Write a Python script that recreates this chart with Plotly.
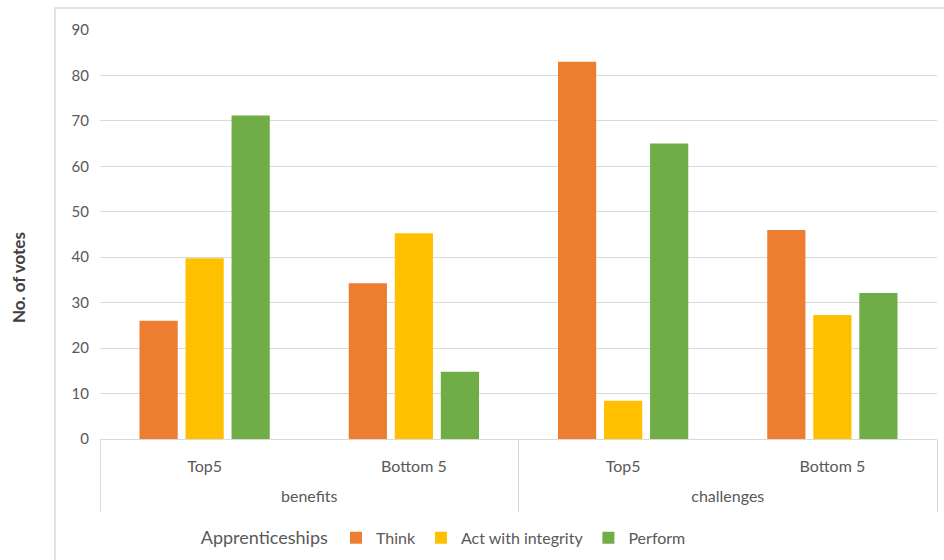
import plotly.graph_objects as go

groups = ["benefits", "benefits", "challenges", "challenges"]
subcats = ["Top5", "Bottom 5", "Top5", "Bottom 5"]
group_labels = ["benefits", "challenges"]
think = [26, 34.3, 83, 46]
act = [39.8, 45.3, 8.4, 27.3]
perform = [71.2, 14.8, 65, 32.1]
series_names = ["Think", "Act with integrity", "Perform"]
colors = ["#ED7D31", "#FFC000", "#70AD47"]

FONT = "Lato, 'Open Sans', sans-serif"
TXT = "#595959"
xkeys = [f"{g}|{s}" for g, s in zip(groups, subcats)]

fig = go.Figure()
for name, vals, col in zip(series_names, [think, act, perform], colors):
    fig.add_trace(go.Bar(x=xkeys, y=vals, name=name,
                         marker=dict(color=col, line=dict(width=0))))
# invisible helper trace so the group-label axis is drawn
fig.add_trace(go.Scatter(x=[0, len(group_labels)], y=[0, 0], xaxis="x2", mode="none",
                         showlegend=False, hoverinfo="skip"))

fig.update_layout(
    width=944, height=560,
    margin=dict(l=100, r=7, t=30, b=121, autoexpand=False),
    paper_bgcolor="white", plot_bgcolor="white",
    barmode="group", bargap=0.34, bargroupgap=0.17,
    font=dict(family=FONT, color=TXT, size=15),
    showlegend=True,
    legend=dict(orientation="h", x=0.118, xanchor="left", y=-0.2, yanchor="top",
                title=dict(text="Apprenticeships", side="left",
                           font=dict(size=18, color=TXT, family=FONT)),
                font=dict(size=16, color=TXT, family=FONT),
                itemwidth=30, tracegroupgap=0),
    yaxis=dict(range=[0, 90], dtick=10, showgrid=True, gridcolor="#d9d9d9", gridwidth=1,
               zeroline=False, showline=False, ticks="", automargin=False,
               tickfont=dict(size=15, color=TXT, family=FONT), ticklabelstandoff=10),
    xaxis=dict(type="category", tickvals=xkeys, ticktext=subcats, automargin=False,
               showline=True, linecolor="#d9d9d9", linewidth=1, ticks="",
               showgrid=False, ticklabelstandoff=13,
               tickfont=dict(size=16, color=TXT, family=FONT)),
    xaxis2=dict(overlaying="x", side="bottom", range=[0, len(group_labels)],
                tickmode="array", tickvals=[i + 0.5 for i in range(len(group_labels))],
                ticktext=group_labels, ticks="", showgrid=False, zeroline=False,
                showline=False, ticklabelstandoff=46, automargin=False,
                tickfont=dict(size=16, color=TXT, family=FONT),
                minor=dict(tickmode="array", tickvals=list(range(len(group_labels) + 1)),
                           ticks="outside", ticklen=72, tickwidth=1, tickcolor="#d9d9d9",
                           showgrid=False)),
    shapes=[dict(type="rect", xref="paper", yref="paper",
                 x0=-0.0538, x1=1.2, y0=-0.5, y1=1.0538,
                 line=dict(color="#d9d9d9", width=1.5), layer="below")],
    annotations=[dict(text="<b>No. of votes</b>", xref="paper", yref="paper",
                      x=-0.098, xanchor="center", y=0.396, yanchor="middle",
                      textangle=-90, showarrow=False,
                      font=dict(size=17, color="#404040", family=FONT))],
)

fig.write_html("out.html")
